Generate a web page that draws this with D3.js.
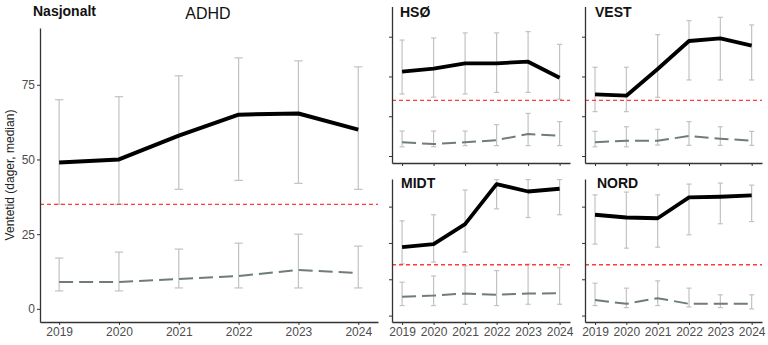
<!DOCTYPE html>
<html>
<head>
<meta charset="utf-8">
<script src="https://cdn.jsdelivr.net/npm/d3@7"></script>
<style>
  html, body { margin: 0; padding: 0; background: #fff; }
  svg { display: block; font-family: "Liberation Sans", Arial, Helvetica, sans-serif; }
</style>
</head>
<body>
<svg id="chart" width="768" height="345"></svg>
<script>
// ---- data ----
const years = [2019, 2020, 2021, 2022, 2023, 2024];
const yTicks = [0, 25, 50, 75];
const targetLine = 35;
const panelNames = ["Nasjonalt", "HSØ", "VEST", "MIDT", "NORD"];

const natMedian   = [49, 50, 58, 65, 65.4, 60];
const natLow      = [35, 35, 40, 43, 42, 40];
const natHigh     = [70, 71, 78, 84, 83, 81];
const natGrey     = [9, 9, 10, 11, 13, 12];
const natGreyLow  = [6, 6, 7, 7, 7, 7];
const natGreyHigh = [17, 19, 20, 22, 25, 21];

const hsoMedian   = [53, 55, 58.3, 58.3, 59.3, 49.2];
const hsoLow      = [39, 37, 39, 40, 40, 35.7];
const hsoHigh     = [72.9, 74.2, 77.4, 77.4, 78.2, 70.2];
const hsoGrey     = [8.6, 7.5, 8.6, 10, 13.8, 12.8];
const hsoGreyLow  = [5.8, 5.8, 6.5, 6.5, 6.5, 6.5];
const hsoGreyHigh = [15.7, 15.7, 15.7, 19.7, 26.8, 21.6];

const vestMedian   = [38.8, 37.9, 54.7, 72.3, 74, 69.4];
const vestLow      = [27.9, 27.9, 36.9, 47.8, 47.8, 47.8];
const vestHigh     = [55.8, 55.8, 76.3, 85.1, 87.2, 82.4];
const vestGrey     = [8.6, 9.6, 9.6, 12.6, 10.9, 9.6];
const vestGreyLow  = [5.8, 5.8, 6.9, 6.7, 6.7, 6.7];
const vestGreyHigh = [15.5, 18.4, 16.8, 21.6, 18.4, 15.5];

const midtMedian   = [47.1, 49.2, 62.9, 90.5, 85.4, 87.3];
const midtLow      = [35.6, 36.8, 43.7, 73.5, 67.5, 69.4];
const midtHigh     = [65.2, 69.4, 86.4, 93.5, 94, 94];
const midtGrey     = [12.9, 13.8, 15.2, 14.3, 15.2, 15.4];
const midtGreyLow  = [6.9, 6.9, 7.8, 6.9, 7.8, 7.8];
const midtGreyHigh = [23, 27.3, 34.2, 31, 35.4, 33];

const nordMedian   = [69.4, 67.5, 67, 81.3, 81.8, 82.7];
const nordLow      = [49.2, 46.4, 47.1, 55.6, 63.2, 64.7];
const nordHigh     = [83.1, 85, 83.1, 90.5, 91.2, 89.8];
const nordGrey     = [10.8, 8.1, 12, 8.1, 8.1, 8.1];
const nordGreyLow  = [6.9, 5.5, 6.9, 6, 5.5, 4.6];
const nordGreyHigh = [22.3, 18.9, 23.9, 18.9, 14.3, 14.3];

// ---- layout ----
const xDomain = [2018.68, 2024.33];
const yDomain = [-4.4, 94];

const panels = [
  { name: panelNames[0], box: [40, 378, 322, 28], yLabels: true, xLabels: true, capW: 0.14, lw: 4,
    med: natMedian, lo: natLow, hi: natHigh, g: natGrey, glo: natGreyLow, ghi: natGreyHigh,
    titleX: 33, titleY: 16 },
  { name: panelNames[1], box: [392, 570, 163, 6.5], yLabels: false, xLabels: false, capW: 0.16, lw: 3.8,
    med: hsoMedian, lo: hsoLow, hi: hsoHigh, g: hsoGrey, glo: hsoGreyLow, ghi: hsoGreyHigh,
    titleX: 400, titleY: 17 },
  { name: panelNames[2], box: [585, 762, 163, 6.5], yLabels: false, xLabels: false, capW: 0.16, lw: 3.8,
    med: vestMedian, lo: vestLow, hi: vestHigh, g: vestGrey, glo: vestGreyLow, ghi: vestGreyHigh,
    titleX: 595, titleY: 17 },
  { name: panelNames[3], box: [392, 570, 322, 179], yLabels: false, xLabels: true, capW: 0.16, lw: 3.8,
    med: midtMedian, lo: midtLow, hi: midtHigh, g: midtGrey, glo: midtGreyLow, ghi: midtGreyHigh,
    titleX: 401, titleY: 188 },
  { name: panelNames[4], box: [585, 762, 322, 179], yLabels: false, xLabels: true, capW: 0.16, lw: 3.8,
    med: nordMedian, lo: nordLow, hi: nordHigh, g: nordGrey, glo: nordGreyLow, ghi: nordGreyHigh,
    titleX: 597, titleY: 188 }
];

const svg = d3.select("#chart");

const errColor = "#c2c2c2";
const greyLineColor = "#6f7c79";

panels.forEach(p => {
  const [x0, x1, y0, y1] = p.box;
  const x = d3.scaleLinear().domain(xDomain).range([x0, x1]);
  const y = d3.scaleLinear().domain(yDomain).range([y0, y1]);
  const g = svg.append("g");
  const capHalf = (x(2020) - x(2019)) * p.capW / 2;
  const clampY = v => y(Math.min(v, yDomain[1] - 0.4));

  // error bars
  const drawErr = (lo, hi) => {
    const eg = g.append("g").attr("stroke", errColor).attr("stroke-width", 1.2).attr("fill", "none");
    years.forEach((yr, i) => {
      const cx = x(yr);
      eg.append("line").attr("x1", cx).attr("x2", cx).attr("y1", y(lo[i])).attr("y2", clampY(hi[i]));
      eg.append("line").attr("x1", cx - capHalf).attr("x2", cx + capHalf).attr("y1", y(lo[i])).attr("y2", y(lo[i]));
      eg.append("line").attr("x1", cx - capHalf).attr("x2", cx + capHalf).attr("y1", clampY(hi[i])).attr("y2", clampY(hi[i]));
    });
  };
  drawErr(p.glo, p.ghi);
  drawErr(p.lo, p.hi);

  // target line
  g.append("line")
    .attr("x1", x0).attr("x2", x1)
    .attr("y1", y(targetLine)).attr("y2", y(targetLine))
    .attr("stroke", "#ff3b3b").attr("stroke-width", 1.3).attr("stroke-dasharray", "4,3");

  const line = d3.line().x((d, i) => x(years[i])).y(d => y(d));

  g.append("path").datum(p.g)
    .attr("d", line).attr("fill", "none")
    .attr("stroke", greyLineColor).attr("stroke-width", 2)
    .attr("stroke-dasharray", "14,6");

  g.append("path").datum(p.med)
    .attr("d", line).attr("fill", "none")
    .attr("stroke", "#000").attr("stroke-width", p.lw)
    .attr("stroke-linejoin", "round");

  // axes
  const yAxis = d3.axisLeft(y).tickValues(yTicks).tickSize(3).tickSizeOuter(0).tickPadding(2)
    .tickFormat(p.yLabels ? d3.format("d") : () => "");
  const ya = g.append("g").attr("transform", `translate(${x0},0)`).call(yAxis);
  const xAxis = d3.axisBottom(x).tickValues(years).tickSize(3).tickSizeOuter(0).tickPadding(2)
    .tickFormat(p.xLabels ? d3.format("d") : () => "");
  const xa = g.append("g").attr("transform", `translate(0,${y0})`).call(xAxis);
  [ya, xa].forEach(a => {
    a.select(".domain").attr("stroke", "#333").attr("stroke-width", 1.3);
    a.selectAll(".tick line").attr("stroke", "#333").attr("stroke-width", 1);
    a.selectAll(".tick text").attr("fill", "#4d4d4d").style("font-size", "12px")
      .style("font-family", "'Liberation Sans', Arial, sans-serif");
  });

  // panel title
  g.append("text").attr("x", p.titleX).attr("y", p.titleY)
    .attr("font-weight", "bold").attr("font-size", 14).attr("fill", "#111")
    .text(p.name);
});

// main title
svg.append("text").attr("x", 208).attr("y", 19).attr("text-anchor", "middle")
  .attr("font-size", 16).attr("fill", "#111").text("ADHD");

// y-axis label
svg.append("text")
  .attr("transform", "translate(14,175) rotate(-90)")
  .attr("text-anchor", "middle").attr("font-size", 12).attr("fill", "#222")
  .text("Ventetid (dager, median)");
</script>
</body>
</html>
